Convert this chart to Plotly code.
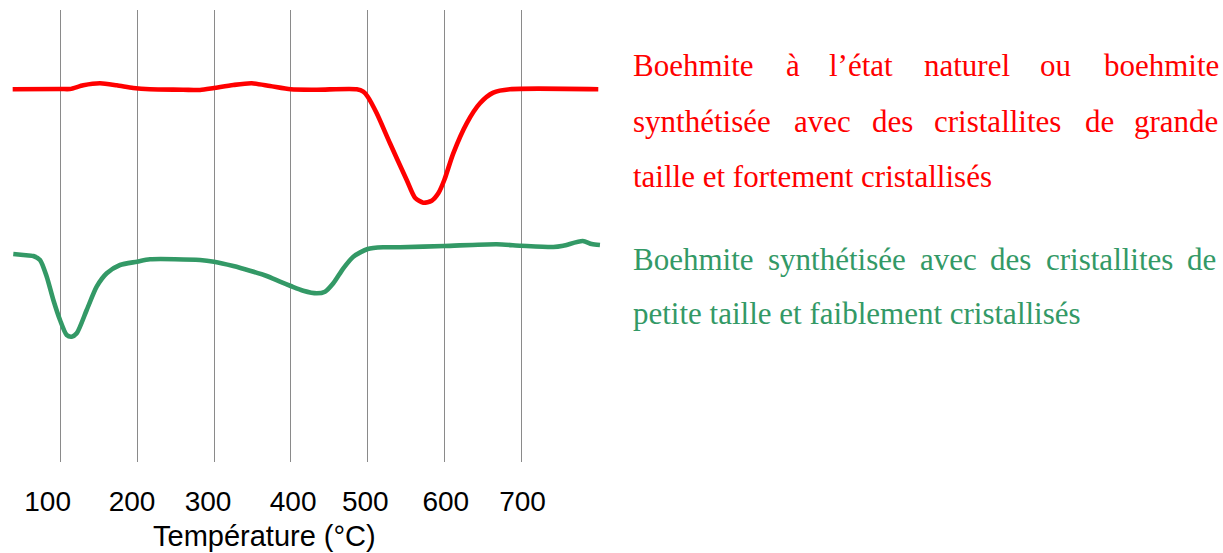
import plotly.graph_objects as go

# Température (°C) and ATD signal (u.a.) for the two boehmite samples
temp_grande = [37.4, 100.0, 112.1, 129.5, 151.2, 173.0, 194.6, 216.4, 259.4, 281.6,
               299.8, 325.0, 349.0, 372.8, 399.8, 433.7, 485.8, 494.4, 500.2, 511.9,
               529.2, 551.0, 561.8, 572.6, 583.6, 592.2, 600.0, 611.7, 629.2, 646.5,
               663.9, 685.6, 800.7]
signal_grande = [372.7, 373.0, 373.0, 376.7, 378.7, 376.7, 374.0, 372.7, 372.3, 372.0,
                 374.0, 377.0, 378.7, 376.0, 372.7, 372.3, 372.7, 370.3, 365.3, 348.7,
                 318.7, 282.0, 264.3, 259.3, 261.3, 268.7, 282.0, 308.7, 338.7, 358.7,
                 369.3, 372.7, 372.7]

temp_petite = [38.2, 51.3, 64.3, 73.0, 81.8, 90.4, 99.1, 107.8, 114.3, 120.9,
               133.9, 146.9, 160.0, 177.3, 199.5, 216.4, 281.6, 299.8, 325.0, 346.7,
               368.5, 385.8, 399.8, 416.2, 433.7, 444.5, 455.3, 468.4, 481.4, 500.2,
               520.5, 542.3, 600.0, 668.3, 700.0, 742.1, 755.1, 780.4, 792.1, 802.9]
signal_petite = [208.0, 207.0, 206.0, 202.0, 185.3, 162.0, 142.0, 127.0, 125.3, 128.7,
                 152.0, 175.3, 188.7, 197.0, 200.3, 202.7, 202.0, 200.3, 196.0, 191.3,
                 186.0, 180.3, 176.0, 171.3, 168.7, 170.3, 178.7, 193.7, 205.3, 213.0,
                 214.7, 214.7, 216.0, 217.7, 216.3, 215.0, 216.3, 221.0, 218.0, 217.0]

grid_temps = [100, 200, 300, 400, 500, 600, 700]
tick_label_temps = [83, 193, 292, 403, 497, 602, 702]
tick_labels = ["100", "200", "300", "400", "500", "600", "700"]

RED = "#FF0000"
GREEN = "#339966"
SERIF = "Times New Roman, Liberation Serif, serif"
SANS = "Arial, Liberation Sans, sans-serif"

W, H = 1223, 553
L, R, T, B = 12, 622, 10, 91
PW, PH = W - L - R, H - T - B


def px_x(px):
    return (px - L) / PW


def px_y(py):
    return (H - B - py) / PH


fig = go.Figure()
fig.add_trace(go.Scatter(x=temp_grande, y=signal_grande, mode="lines",
                         line=dict(color=RED, width=4.6, shape="spline", smoothing=0.7),
                         hoverinfo="skip", showlegend=False))
fig.add_trace(go.Scatter(x=temp_petite, y=signal_petite, mode="lines",
                         line=dict(color=GREEN, width=4.6, shape="spline", smoothing=0.7),
                         hoverinfo="skip", showlegend=False, xaxis="x2"))

# Legend text, justified lines laid out word by word
red_lines = [
    (75.7, [("Boehmite", 633.6), ("à", 786.7), ("l’état", 829.3), ("naturel", 924.3),
            ("ou", 1040.5), ("boehmite", 1104.5)]),
    (131.7, [("synthétisée", 633.6), ("avec", 794.4), ("des", 872.0),
             ("cristallites", 934.0), ("de", 1085.0), ("grande", 1134.0)]),
    (186.7, [("taille et fortement cristallisés", 633.6)]),
]
green_lines = [
    (269.3, [("Boehmite", 633.6), ("synthétisée", 768.2), ("avec", 920.1), ("des", 990.9),
             ("cristallites", 1046.3), ("de", 1187.7)]),
    (323.3, [("petite taille et faiblement cristallisés", 633.6)]),
]

FS = 31
PAD = 2.5
annotations = []
for color, lines in ((RED, red_lines), (GREEN, green_lines)):
    for base, words in lines:
        for word, left in words:
            annotations.append(dict(
                text=word, x=px_x(left - PAD), y=px_y(base - 0.33 * FS),
                xref="paper", yref="paper", xanchor="left", yanchor="middle",
                showarrow=False, font=dict(family=SERIF, size=FS, color=color)))

annotations.append(dict(
    text="Température (°C)", x=px_x(264), y=px_y(536),
    xref="paper", yref="paper", xanchor="center", yanchor="middle",
    showarrow=False, font=dict(family=SANS, size=29, color="black")))
fig.update_layout(annotations=annotations)

x_range = [100 + (L - 60.7) / 0.7672, 100 + (L + PW - 60.7) / 0.7672]

fig.update_layout(
    width=W, height=H,
    margin=dict(l=L, r=R, t=T, b=B),
    paper_bgcolor="white", plot_bgcolor="white",
    xaxis=dict(range=x_range, tickvals=grid_temps, showticklabels=False,
               showgrid=True, gridcolor="#8a8a8a", gridwidth=1,
               zeroline=False, showline=False, ticks=""),
    xaxis2=dict(range=x_range, overlaying="x", side="bottom", anchor="y",
                tickvals=tick_label_temps, ticktext=tick_labels,
                showgrid=False, zeroline=False, showline=False, ticks="",
                ticklabelstandoff=20,
                tickfont=dict(family=SANS, size=28, color="black")),
    yaxis=dict(range=[0, PH], visible=False, showgrid=False, zeroline=False),
)

fig.write_html("out.html")
